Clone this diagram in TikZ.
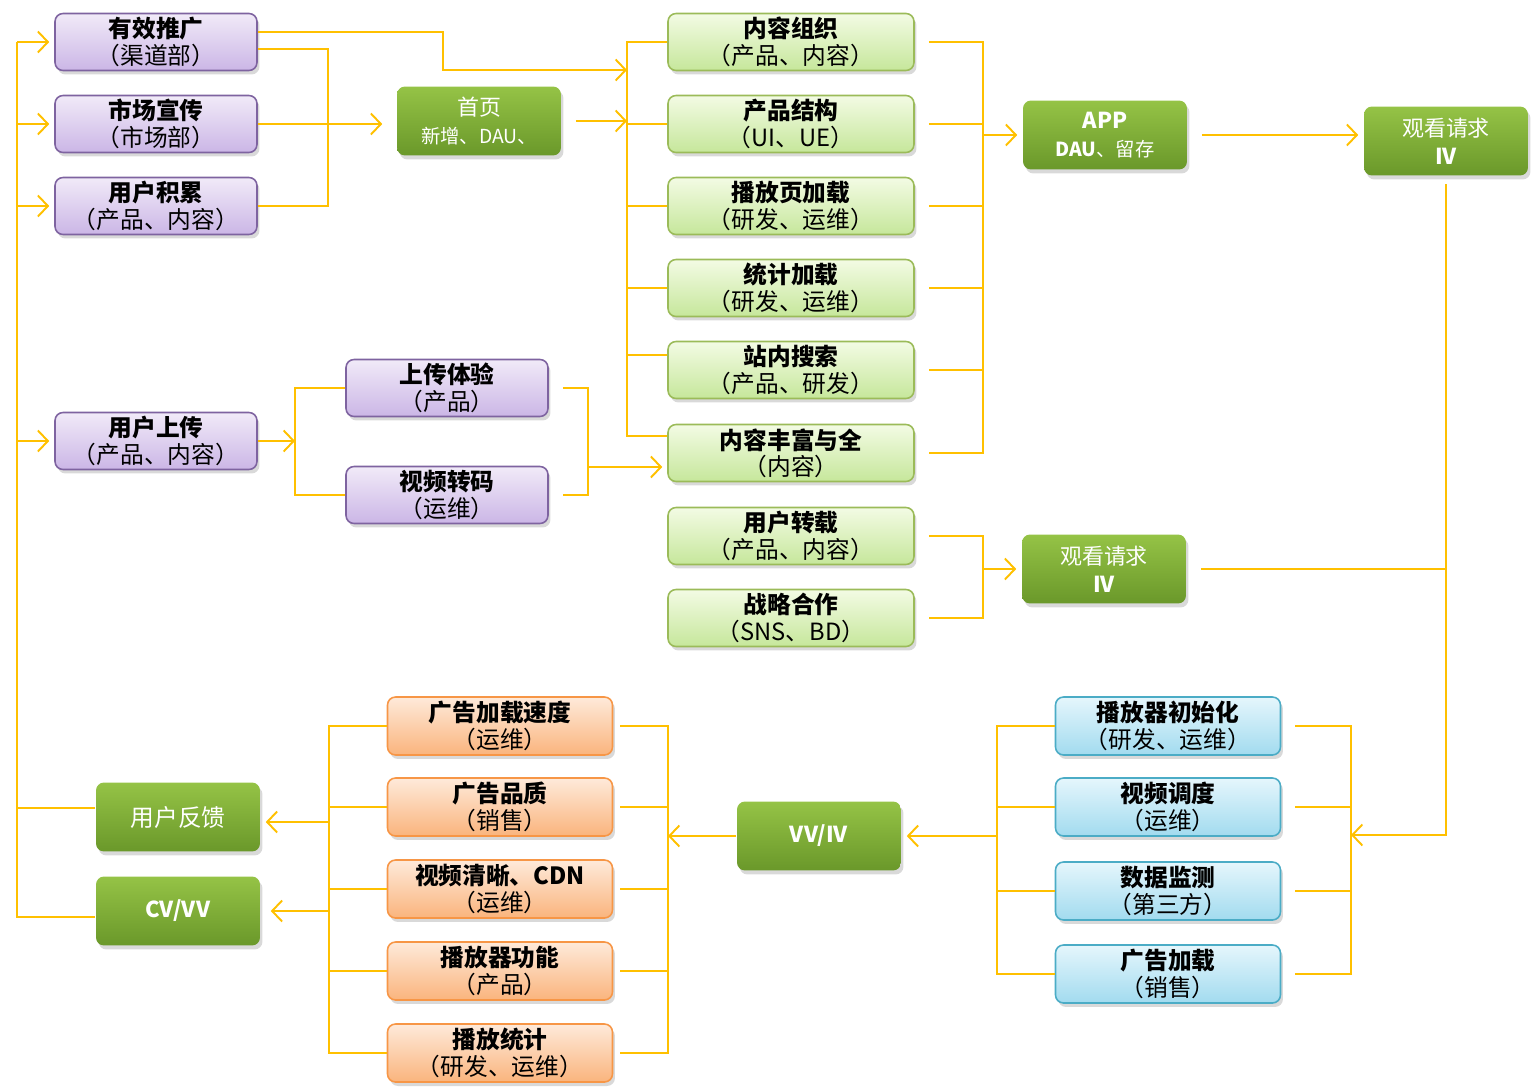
\documentclass[tikz,border=0pt]{standalone}
\usepackage{fontspec}
\setmainfont{Noto Sans CJK SC}
\usepackage{tikz}
\usepackage{xcolor}
\usetikzlibrary{arrows.meta,shadows}
\definecolor{gold}{HTML}{FFC000}
\definecolor{lilacline}{HTML}{7E63A0}
\definecolor{lilactop}{HTML}{F1EAF8}
\definecolor{lilacbot}{HTML}{CBB6E6}
\definecolor{mintline}{HTML}{9BBB59}
\definecolor{minttop}{HTML}{F3FBE4}
\definecolor{mintbot}{HTML}{C6E79B}
\definecolor{leaftop}{HTML}{95C346}
\definecolor{leafbot}{HTML}{6A982A}
\definecolor{peachline}{HTML}{F79646}
\definecolor{peachtop}{HTML}{FEEADA}
\definecolor{peachbot}{HTML}{FAB47D}
\definecolor{skyline}{HTML}{4BACC6}
\definecolor{skytop}{HTML}{E5F6FC}
\definecolor{skybot}{HTML}{A2DBEF}

\begin{document}
\begin{tikzpicture}[x=0.02cm,y=-0.02cm,>={Straight Barb[length=0.2cm,width=0.42cm]},
box/.style={rounded corners=0.16cm,line width=0.9pt,align=center,inner sep=0pt,font=\fontsize{13.5}{15}\selectfont,
  drop shadow={shadow xshift=0.05cm,shadow yshift=-0.08cm,opacity=0.3}},
lilac/.style={box,draw=lilacline,top color=lilactop,bottom color=lilacbot,minimum width=4.04cm,minimum height=1.14cm},
mint/.style={box,draw=mintline,top color=minttop,bottom color=mintbot,minimum width=4.92cm,minimum height=1.14cm},
peach/.style={box,draw=peachline,top color=peachtop,bottom color=peachbot,minimum width=4.5cm,minimum height=1.16cm},
sky/.style={box,draw=skyline,top color=skytop,bottom color=skybot,minimum width=4.5cm,minimum height=1.16cm},
leaf/.style={box,draw=none,top color=leaftop,bottom color=leafbot,text=white,minimum width=3.28cm,minimum height=1.38cm,font=\fontsize{12.5}{16}\selectfont},
con/.style={draw=gold,line width=1.1pt}]
\useasboundingbox (0,0) rectangle (1539,1091);
\node[lilac](promo) at (156,42){\textbf{有效推广}\\（渠道部）};
\node[lilac](market) at (156,124){\textbf{市场宣传}\\（市场部）};
\node[lilac](accum) at (156,206){\textbf{用户积累}\\（产品、内容）};
\node[lilac](upload) at (156,441){\textbf{用户上传}\\（产品、内容）};
\node[lilac](upexp) at (447,388){\textbf{上传体验}\\（产品）};
\node[lilac](transc) at (447,495){\textbf{视频转码}\\（运维）};
\node[leaf](home) at (479,121){首页\\{\fontsize{11}{13}\selectfont 新增、DAU、}};
\node[leaf](app) at (1105,135){\textbf{APP}\\{\fontsize{11}{13}\selectfont\textbf{DAU}、留存}};
\node[leaf](ivtop) at (1446,141){观看请求\\\textbf{IV}};
\node[leaf](ivmid) at (1104,569){观看请求\\\textbf{IV}};
\node[leaf](vviv) at (819,836){\textbf{VV/IV}};
\node[leaf,font=\fontsize{13.5}{15}\selectfont](feedback) at (178,817){用户反馈};
\node[leaf](cvvv) at (178,911){\textbf{CV/VV}};
\node[mint](org) at (791,42){\textbf{内容组织}\\（产品、内容）};
\node[mint](struct) at (791,124){\textbf{产品结构}\\（UI、UE）};
\node[mint](pload) at (791,206){\textbf{播放页加载}\\（研发、运维）};
\node[mint](stat) at (791,288){\textbf{统计加载}\\（研发、运维）};
\node[mint](search) at (791,370){\textbf{站内搜索}\\（产品、研发）};
\node[mint](rich) at (791,453){\textbf{内容丰富与全}\\（内容）};
\node[mint](repost) at (791,536){\textbf{用户转载}\\（产品、内容）};
\node[mint](coop) at (791,618){\textbf{战略合作}\\（SNS、BD）};
\node[peach](adspeed) at (500,726){\textbf{广告加载速度}\\（运维）};
\node[peach](adqual) at (500,807){\textbf{广告品质}\\（销售）};
\node[peach](clarity) at (500,889){\textbf{视频清晰、CDN}\\（运维）};
\node[peach](pfunc) at (500,971){\textbf{播放器功能}\\（产品）};
\node[peach](pstat) at (500,1053){\textbf{播放统计}\\（研发、运维）};
\node[sky](pinit) at (1168,726){\textbf{播放器初始化}\\（研发、运维）};
\node[sky](sched) at (1168,807){\textbf{视频调度}\\（运维）};
\node[sky](monit) at (1168,891){\textbf{数据监测}\\（第三方）};
\node[sky](adload) at (1168,974){\textbf{广告加载}\\（销售）};
\coordinate(lb) at (17,42);
\coordinate(pb) at (328,49);
\coordinate(kink) at (443,70);
\coordinate(gb) at (627,42);
\coordinate(rb) at (983,42);
\coordinate(ub) at (295,441);
\coordinate(mb) at (588,467);
\coordinate(bb) at (1351,835);
\coordinate(cb) at (997,836);
\coordinate(ob) at (668,836);
\coordinate(fb) at (329,822);
\draw[con]([yshift=-0.12cm]cvvv.west)-|(lb) ([yshift=0.18cm]feedback.west)--([yshift=0.18cm]feedback.west-|lb);
\draw[con,->,shorten >=0.1cm](promo.west-|lb)--(promo.west);
\draw[con,->,shorten >=0.1cm](market.west-|lb)--(market.west);
\draw[con,->,shorten >=0.1cm](accum.west-|lb)--(accum.west);
\draw[con,->,shorten >=0.1cm](upload.west-|lb)--(upload.west);
\draw[con,->]([yshift=0.2cm]promo.east)-|(kink)--(kink-|gb);
\draw[con]([yshift=-0.14cm]promo.east)-|(accum.east-|pb)--(accum.east);
\draw[con,->,shorten >=0.28cm](market.east)--(market.east-|home.west);
\draw[con,->,shorten <=0.28cm](home.east)--(home.east-|gb);
\draw[con](org.west)--(org.west-|gb)|-([yshift=0.34cm]rich.west);
\draw[con](struct.west)--(struct.west-|gb) (pload.west)--(pload.west-|gb) (stat.west)--(stat.west-|gb) ([yshift=0.3cm]search.west)--([yshift=0.3cm]search.west-|gb);
\draw[con]([xshift=0.28cm]org.east)--(org.east-|rb)|-([xshift=0.28cm]rich.east);
\draw[con]([xshift=0.28cm]struct.east)--(struct.east-|rb) ([xshift=0.28cm]pload.east)--(pload.east-|rb) ([xshift=0.28cm]stat.east)--(stat.east-|rb) ([xshift=0.28cm]search.east)--(search.east-|rb);
\draw[con,->,shorten >=0.1cm](app.west-|rb)--(app.west);
\draw[con,->,shorten <=0.28cm,shorten >=0.1cm](app.east)--(app.east-|ivtop.west);
\draw[con,->](upload.east)--(ub);
\draw[con](upexp.west)--(upexp.west-|ub)--(transc.west-|ub)--(transc.west);
\draw[con]([xshift=0.28cm]upexp.east)--(upexp.east-|mb)--(transc.east-|mb)--([xshift=0.28cm]transc.east);
\draw[con,->,shorten >=0.1cm](mb)--(mb-|rich.west);
\draw[con]([xshift=0.28cm]repost.east)--(repost.east-|rb)--(coop.east-|rb)--([xshift=0.28cm]coop.east);
\draw[con,->,shorten >=0.1cm](ivmid.west-|rb)--(ivmid.west);
\draw[con]([xshift=0.28cm]ivmid.east)--(ivmid.east-|ivtop.south);
\draw[con,->]([yshift=-0.16cm]ivtop.south)|-(bb);
\draw[con]([xshift=0.28cm]pinit.east)--(pinit.east-|bb)--(adload.east-|bb)--([xshift=0.28cm]adload.east);
\draw[con]([xshift=0.28cm]sched.east)--(sched.east-|bb) ([xshift=0.28cm]monit.east)--(monit.east-|bb);
\draw[con](pinit.west)--(pinit.west-|cb)--(adload.west-|cb)--(adload.west) (sched.west)--(sched.west-|cb) (monit.west)--(monit.west-|cb);
\draw[con,->,shorten >=0.1cm](vviv.east-|cb)--(vviv.east);
\draw[con,->](vviv.west)--(ob);
\draw[con]([xshift=0.14cm]adspeed.east)--(adspeed.east-|ob)--(pstat.east-|ob)--([xshift=0.14cm]pstat.east) ([xshift=0.14cm]adqual.east)--(adqual.east-|ob) ([xshift=0.14cm]clarity.east)--(clarity.east-|ob) ([xshift=0.14cm]pfunc.east)--(pfunc.east-|ob);
\draw[con](adspeed.west)--(adspeed.west-|fb)--(pstat.west-|fb)--(pstat.west) (adqual.west)--(adqual.west-|fb) (clarity.west)--(clarity.west-|fb) (pfunc.west)--(pfunc.west-|fb);
\draw[con,->,shorten >=0.1cm](fb)--(fb-|feedback.east);
\draw[con,->,shorten >=0.2cm](cvvv.east-|fb)--(cvvv.east);
\end{tikzpicture}
\end{document}
